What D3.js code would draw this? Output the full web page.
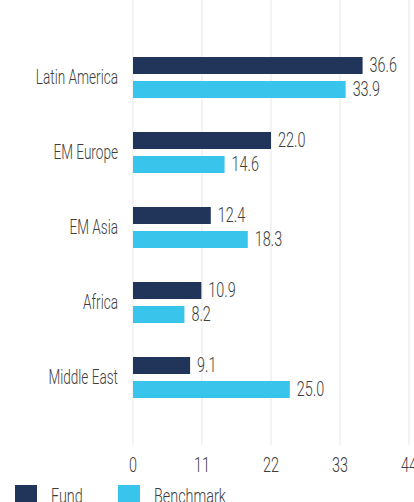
<!DOCTYPE html>
<html><head><meta charset="utf-8">
<script src="https://cdn.jsdelivr.net/npm/d3@7"></script>
<style>
html,body{margin:0;padding:0;background:#fff;}
svg text{font-family:"Roboto","Liberation Sans",sans-serif;font-weight:300;fill:#3d3d3d;}
</style></head><body>
<svg id="c" width="414" height="502"></svg>
<script>
const categories = ["Latin America","EM Europe","EM Asia","Africa","Middle East"];
const series = ["Fund","Benchmark"];
const fundValues = [36.6, 22.0, 12.4, 10.9, 9.1];
const benchmarkValues = [33.9, 14.6, 18.3, 8.2, 25.0];
const tickValues = [0, 11, 22, 33, 44];
const colors = ["#21345a", "#39c4ec"];

const svg = d3.select("#c");
const x = d3.scaleLinear().domain([0, 44]).range([133, 409]);
const y = d3.scaleBand().domain(categories).range([40, 415]).paddingInner(0.4533).paddingOuter(0.2267);
const ySub = d3.scaleBand().domain(series).range([0, y.bandwidth()]).paddingInner(0.2917);
const FS = 20, SX = 0.72, SXC = 0.68;

// gridlines
svg.append("g").selectAll("line").data(tickValues).join("line")
  .attr("x1", d => x(d)).attr("x2", d => x(d))
  .attr("y1", 0).attr("y2", 445)
  .attr("stroke", "#ebebeb").attr("stroke-width", 1.2);

// tick labels
svg.append("g").selectAll("text").data(tickValues).join("text")
  .attr("transform", d => `translate(${x(d)},472) scale(${SX},1)`)
  .attr("text-anchor", "middle").attr("font-size", FS)
  .text(d => d);

const rows = categories.map((c, i) => ({c, vals: [fundValues[i], benchmarkValues[i]]}));
const g = svg.append("g").selectAll("g").data(rows).join("g")
  .attr("transform", d => `translate(0,${y(d.c)})`);

g.append("text")
  .attr("transform", `translate(118,${y.bandwidth()/2 + 6.5}) scale(${SXC},1)`)
  .attr("text-anchor", "end").attr("font-size", FS)
  .text(d => d.c);

const bars = g.selectAll("g.b").data(d => d.vals.map((v, j) => ({s: series[j], v, j}))).join("g").attr("class","b");
bars.append("rect")
  .attr("x", x(0)).attr("y", d => ySub(d.s))
  .attr("width", d => x(d.v) - x(0)).attr("height", ySub.bandwidth())
  .attr("fill", d => colors[d.j]);
bars.append("text")
  .attr("transform", d => `translate(${x(d.v) + 7},${ySub(d.s) + ySub.bandwidth()/2 + 6.5}) scale(${SX},1)`)
  .attr("font-size", FS)
  .text(d => d.v.toFixed(1));

// legend
const legX = [15, 118];
const lg = svg.append("g").selectAll("g").data(series).join("g")
  .attr("transform", (d, i) => `translate(${legX[i]},485)`);
lg.append("rect").attr("width", 22).attr("height", 22).attr("fill", (d, i) => colors[i]);
lg.append("text").attr("transform", `translate(36,18) scale(${SX},1)`).attr("font-size", FS).text(d => d);
</script>
</body></html>
